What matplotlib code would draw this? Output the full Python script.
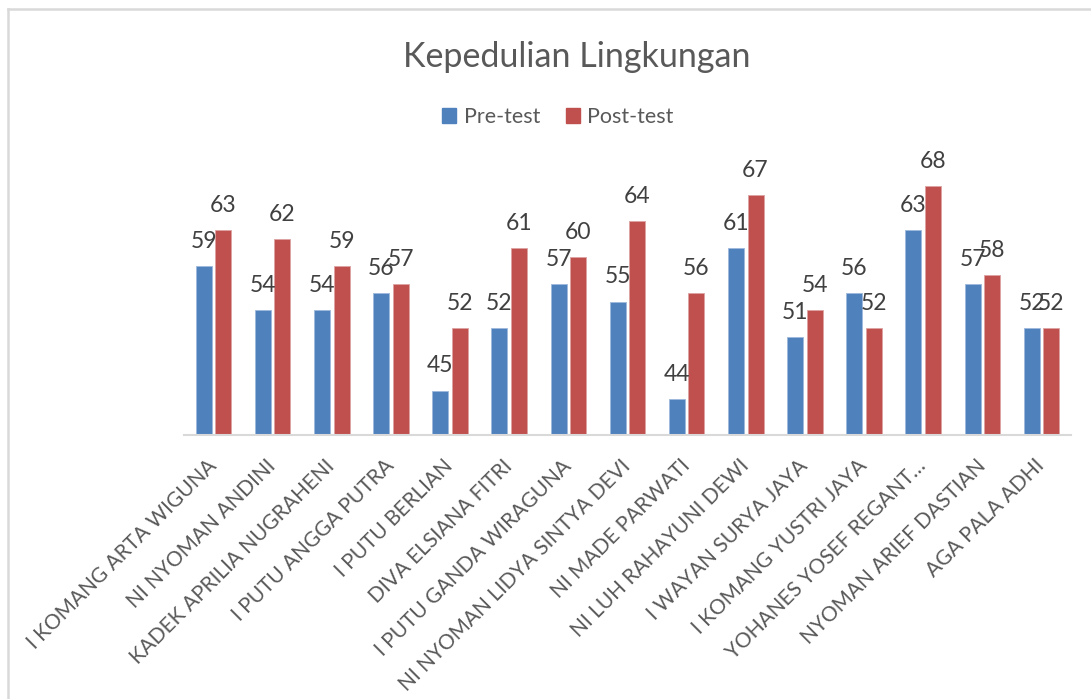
import matplotlib.pyplot as plt
import numpy as np
from matplotlib.lines import Line2D
from matplotlib.patches import Patch

names = ["I KOMANG ARTA WIGUNA", "NI NYOMAN ANDINI", "KADEK APRILIA NUGRAHENI",
         "I PUTU ANGGA PUTRA", "I PUTU BERLIAN", "DIVA ELSIANA FITRI",
         "I PUTU GANDA WIRAGUNA", "NI NYOMAN LIDYA SINTYA DEVI", "NI MADE PARWATI",
         "NI LUH RAHAYUNI DEWI", "I WAYAN SURYA JAYA", "I KOMANG YUSTRI JAYA",
         "YOHANES YOSEF REGANT\u2026", "NYOMAN ARIEF DASTIAN", "AGA PALA ADHI"]
pre_test = [59, 54, 54, 56, 45, 52, 57, 55, 44, 61, 51, 56, 63, 57, 52]
post_test = [63, 62, 59, 57, 52, 61, 60, 64, 56, 67, 54, 52, 68, 58, 52]

plt.rcParams['font.family'] = ['Lato', 'DejaVu Sans']

blue = "#4F81BD"
red = "#C0504D"
grey_txt = "#595959"

W, H = 1091, 699
fig = plt.figure(figsize=(W / 100, H / 100), dpi=100)
ax = fig.add_axes([184 / W, 1 - 435 / H, (1071 - 184) / W, (435 - 79) / H])

x = np.arange(len(names))
bw = 0.27
off = 0.165
ax.bar(x - off, pre_test, bw, color=blue, edgecolor="#9DB8DB", linewidth=0.6)
ax.bar(x + off, post_test, bw, color=red, edgecolor="#DDA3A2", linewidth=0.6)

for xi, v in zip(x - off, pre_test):
    ax.annotate(str(v), (xi, v), xytext=(0, 13), textcoords="offset points",
                ha="center", va="baseline", fontsize=16.5, color="#404040")
for xi, v in zip(x + off, post_test):
    ax.annotate(str(v), (xi, v), xytext=(0, 13), textcoords="offset points",
                ha="center", va="baseline", fontsize=16.5, color="#404040")

ax.set_ylim(40, 80)
ax.set_xlim(-0.5, len(names) - 0.5)
ax.set_yticks([])
ax.set_xticks(x)
ax.set_xticklabels(names, rotation=45, ha="right", va="center",
                   rotation_mode="anchor", fontsize=15, color=grey_txt)
ax.tick_params(axis="x", length=0, pad=20)
for s in ["top", "right", "left"]:
    ax.spines[s].set_visible(False)
ax.spines["bottom"].set_color("#D9D9D9")
ax.spines["bottom"].set_linewidth(1.5)

fig.text(577 / W, 1 - 57 / H, "Kepedulian Lingkungan", ha="center", va="center",
         fontsize=24.5, color=grey_txt)

handles = [Patch(color=blue), Patch(color=red)]
fig.legend(handles, ["Pre-test", "Post-test"], loc="center",
           bbox_to_anchor=(558 / W, 1 - 117 / H), ncol=2, frameon=False,
           fontsize=15.5, handlelength=0.65, handleheight=0.65, handletextpad=0.35,
           columnspacing=1.2, labelcolor=grey_txt)

# chart area border
fig.add_artist(Line2D([8 / W, 1], [1 - 9 / H, 1 - 9 / H], color="#D9D9D9", lw=1.8))
fig.add_artist(Line2D([8 / W, 8 / W], [0, 1 - 9 / H], color="#D9D9D9", lw=1.8))

fig.savefig("out.png", dpi=100)
